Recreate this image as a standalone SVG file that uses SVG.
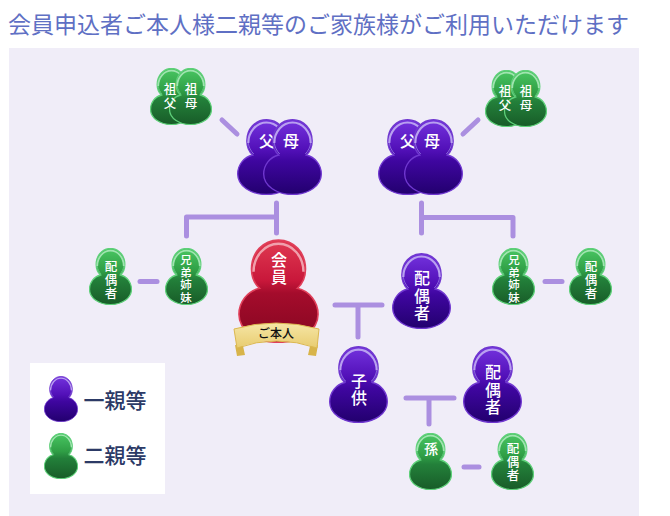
<svg xmlns="http://www.w3.org/2000/svg" width="670" height="516" viewBox="0 0 670 516">
<style>
text{font-family:"Noto Sans CJK JP","Noto Sans",sans-serif;text-anchor:middle}
.l{fill:#fff;font-weight:500}
.s11{font-size:11.500px}.s12{font-size:12.500px}.s14{font-size:14px}.s16{font-size:16px}
.c{fill:none;stroke:#ab8fe0;stroke-width:5;stroke-linecap:round;stroke-linejoin:round}
</style>
<defs>
<linearGradient id="gp" x1="0" y1="0" x2="0" y2="1"><stop offset="0" stop-color="#7433de"/><stop offset=".4" stop-color="#5210b8"/><stop offset=".55" stop-color="#3f06a0"/><stop offset="1" stop-color="#22006e"/></linearGradient>
<linearGradient id="gg" x1="0" y1="0" x2="0" y2="1"><stop offset="0" stop-color="#49c662"/><stop offset=".4" stop-color="#2f9e45"/><stop offset=".55" stop-color="#23803a"/><stop offset="1" stop-color="#185c28"/></linearGradient>
<linearGradient id="gr" x1="0" y1="0" x2="0" y2="1"><stop offset="0" stop-color="#e03a52"/><stop offset=".4" stop-color="#c8173a"/><stop offset=".52" stop-color="#a40c2c"/><stop offset="1" stop-color="#860620"/></linearGradient>
<linearGradient id="rib" x1="0" y1="0" x2="0" y2="1"><stop offset="0" stop-color="#f6e6a6"/><stop offset="1" stop-color="#e8cc70"/></linearGradient>
<path id="sil" d="M30 .7C41.500 .7 50 10 50 22C50 28 47.500 33 44 36C53 38 59.300 46 59.300 55C59.300 67 46 75.500 30 75.500C14 75.500 .7 67 .7 55C.7 46 7 38 16 36C12.500 33 10 28 10 22C10 10 18.500 .7 30 .7Z"/>
<symbol id="pp" viewBox="0 0 60 76" preserveAspectRatio="none"><use href="#sil" fill="url(#gp)" stroke="#7038d0" stroke-width="1.400"/><path d="M11.500 24A18.500 20.500 0 0 1 48.500 24" fill="none" stroke="#b9a0f0" stroke-width="2.200"/><path d="M11.500 24C12 28 14 32 17 35M48.500 24C48 28 46 32 43 35" fill="none" stroke="#8a66dc" stroke-width="1"/></symbol>
<symbol id="pg" viewBox="0 0 60 76" preserveAspectRatio="none"><use href="#sil" fill="url(#gg)" stroke="#5fd07a" stroke-width="1.800"/><path d="M11.500 24A18.500 20.500 0 0 1 48.500 24" fill="none" stroke="#a0e4b0" stroke-width="2.400"/><path d="M11.500 24C12 28 14 32 17 35M48.500 24C48 28 46 32 43 35" fill="none" stroke="#62c87c" stroke-width="1.200"/></symbol>
<symbol id="pr" viewBox="0 0 60 76" preserveAspectRatio="none"><use href="#sil" fill="url(#gr)" stroke="#e0405a" stroke-width="1.200"/><path d="M11.500 24A18.500 20.500 0 0 1 48.500 24" fill="none" stroke="#f0a0ac" stroke-width="1.800"/></symbol>
</defs>
<rect width="670" height="516" fill="#fff"/>
<rect x="9" y="48" width="630" height="468" fill="#f0edf8"/>
<text x="8" y="33" style="text-anchor:start;font-size:23px" fill="#5f70c4">会員申込者ご本人様二親等のご家族様がご利用いただけます</text>
<g id="connectors">
<path class="c" d="M222 120L237 134"/>
<path class="c" d="M478 120L463 134"/>
<path class="c" d="M186.500 236V217H276.500M276.500 203V233"/>
<path class="c" d="M421.500 203V233M421.500 217.500H513V236"/>
<path class="c" d="M140 281.500H157"/>
<path class="c" d="M545 281.500H562"/>
<path class="c" d="M335 305H382M358 305V337"/>
<path class="c" d="M406 398H454M429 398V424"/>
<path class="c" d="M464 467H479"/>
</g>
<g id="n-grandfather-l"><use href="#pg" x="150" y="68" width="43" height="57"/></g>
<g id="n-grandmother-l"><use href="#pg" x="169" y="68" width="43" height="57"/><text class="l s12"><tspan x="191" y="94">祖</tspan><tspan x="191" y="108">母</tspan></text></g>
<g id="n-grandfather-l-label"><text class="l s12"><tspan x="170" y="94">祖</tspan><tspan x="170" y="108">父</tspan></text></g>
<g id="n-father-l"><use href="#pp" x="237" y="119" width="59" height="76"/><text class="l s16" x="267" y="147">父</text></g>
<g id="n-mother-l"><use href="#pp" x="263" y="119" width="59" height="76"/><text class="l s16" x="291" y="147">母</text></g>
<g id="n-grandfather-r"><use href="#pg" x="485" y="70" width="43" height="57"/></g>
<g id="n-grandmother-r"><use href="#pg" x="504" y="70" width="43" height="57"/><text class="l s12"><tspan x="526" y="96">祖</tspan><tspan x="526" y="110">母</tspan></text></g>
<g id="n-grandfather-r-label"><text class="l s12"><tspan x="505" y="96">祖</tspan><tspan x="505" y="110">父</tspan></text></g>
<g id="n-father-r"><use href="#pp" x="378" y="119" width="59" height="76"/><text class="l s16" x="408" y="147">父</text></g>
<g id="n-mother-r"><use href="#pp" x="404" y="119" width="59" height="76"/><text class="l s16" x="432" y="147">母</text></g>
<g id="n-sib-spouse-l"><use href="#pg" x="89" y="248" width="43" height="57"/><text class="l s12"><tspan x="111" y="271">配</tspan><tspan x="111" y="284.500">偶</tspan><tspan x="111" y="298">者</tspan></text></g>
<g id="n-sib-l"><use href="#pg" x="165" y="248" width="43" height="57"/><text class="l s11"><tspan x="186" y="264">兄</tspan><tspan x="186" y="276.500">弟</tspan><tspan x="186" y="289">姉</tspan><tspan x="186" y="301.500">妹</tspan></text></g>
<g id="n-member"><use href="#pr" x="238" y="239" width="81" height="104"/><text class="l s16"><tspan x="279" y="266">会</tspan><tspan x="279" y="283">員</tspan></text>
<path d="M235 345L237 356L245 355L243 346Z M318 345L316 356L308 355L310 346Z" fill="#d8b44a"/>
<path d="M234 329Q276 317 319 329L317 348Q276 334 237 348Z" fill="url(#rib)" stroke="#dcb850" stroke-width="1"/>
<text x="276" y="338" style="font-size:12px;font-weight:500" fill="#111">ご本人</text></g>
<g id="n-spouse"><use href="#pp" x="392" y="253" width="59" height="76"/><text class="l s16"><tspan x="422" y="284">配</tspan><tspan x="422" y="301.500">偶</tspan><tspan x="422" y="319">者</tspan></text></g>
<g id="n-child"><use href="#pp" x="329" y="346" width="59" height="77"/><text class="l s16"><tspan x="359" y="387">子</tspan><tspan x="359" y="403.500">供</tspan></text></g>
<g id="n-child-spouse"><use href="#pp" x="463" y="346" width="59" height="77"/><text class="l s16"><tspan x="493" y="378">配</tspan><tspan x="493" y="395.500">偶</tspan><tspan x="493" y="413">者</tspan></text></g>
<g id="n-sib-r"><use href="#pg" x="492" y="248" width="43" height="57"/><text class="l s11"><tspan x="514" y="264">兄</tspan><tspan x="514" y="276.500">弟</tspan><tspan x="514" y="289">姉</tspan><tspan x="514" y="301.500">妹</tspan></text></g>
<g id="n-sib-spouse-r"><use href="#pg" x="569" y="248" width="43" height="57"/><text class="l s12"><tspan x="591" y="271">配</tspan><tspan x="591" y="284.500">偶</tspan><tspan x="591" y="298">者</tspan></text></g>
<g id="n-grandchild"><use href="#pg" x="409" y="433" width="43" height="57"/><text class="l s14" x="431" y="454">孫</text></g>
<g id="n-grandchild-spouse"><use href="#pg" x="491" y="433" width="43" height="57"/><text class="l s12"><tspan x="513" y="453">配</tspan><tspan x="513" y="466.500">偶</tspan><tspan x="513" y="480">者</tspan></text></g>
<g id="legend"><rect x="30" y="363" width="135" height="131" fill="#fff"/>
<use href="#pp" x="44" y="376" width="34" height="46"/>
<text x="115" y="408" style="font-size:21px;font-weight:500" fill="#2c3a66">一親等</text>
<use href="#pg" x="44" y="433" width="34" height="46"/>
<text x="115" y="463" style="font-size:21px;font-weight:500" fill="#2c3a66">二親等</text></g>
</svg>
